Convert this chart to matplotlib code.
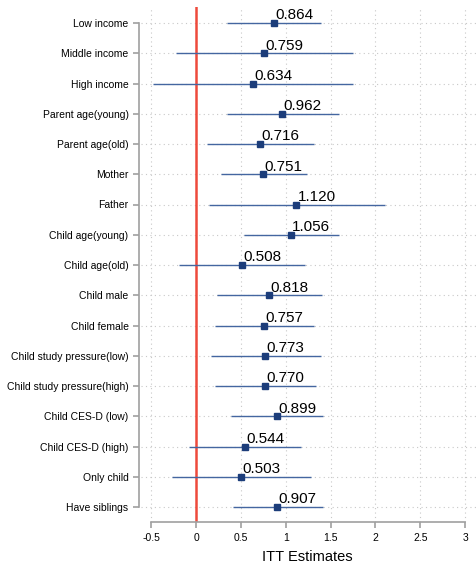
import matplotlib.pyplot as plt

groups = ["Low income", "Middle income", "High income", "Parent age(young)",
          "Parent age(old)", "Mother", "Father", "Child age(young)",
          "Child age(old)", "Child male", "Child female",
          "Child study pressure(low)", "Child study pressure(high)",
          "Child CES-D (low)", "Child CES-D (high)", "Only child",
          "Have siblings"]
estimates = [0.864, 0.759, 0.634, 0.962, 0.716, 0.751, 1.120, 1.056, 0.508,
             0.818, 0.757, 0.773, 0.770, 0.899, 0.544, 0.503, 0.907]
ci_low = [0.346, -0.223, -0.483, 0.342, 0.126, 0.275, 0.145, 0.535, -0.190,
          0.238, 0.208, 0.167, 0.212, 0.394, -0.078, -0.264, 0.412]
ci_high = [1.390, 1.747, 1.754, 1.594, 1.316, 1.234, 2.107, 1.594, 1.215,
           1.408, 1.316, 1.390, 1.338, 1.412, 1.171, 1.279, 1.412]
xticks = [-0.5, 0, 0.5, 1, 1.5, 2, 2.5, 3]
xtick_labels = ["-0.5", "0", "0.5", "1", "1.5", "2", "2.5", "3"]

plt.rcParams['font.family'] = ['Liberation Sans', 'DejaVu Sans']

W, H = 476, 566
fig = plt.figure(figsize=(W / 100, H / 100), dpi=100)
# axes box in pixels: left 139, right 476, top 7, bottom 522
ax = fig.add_axes([139 / W, 1 - 522 / H, (476 - 139) / W, (522 - 7) / H])

x0, ppu = 196.0, 89.7
ax.set_xlim((139 - x0) / ppu, (476 - x0) / ppu)
ax.set_ylim((522 - 23) / 30.25, (7 - 23) / 30.25)

rows = list(range(len(groups)))
grid_col = "#c8c8c8"
for x in xticks:
    ax.axvline(x, color=grid_col, lw=0.8, ls=(0, (1, 3)), zorder=0)
for y in rows:
    ax.axhline(y, xmin=2 / 337, color=grid_col, lw=0.8, ls=(0, (1, 3)), zorder=0)

ax.axvline(0, color="#ee4a3c", lw=1.8, zorder=1)

ax.hlines(rows, ci_low, ci_high, color="#4466a0", lw=1.0, zorder=2)
ax.plot(estimates, rows, ls="none", marker="s", ms=5, color="#1c3d7a", zorder=3)
for y, v in zip(rows, estimates):
    ax.annotate(f"{v:.3f}", (v, y), xytext=(1, 0.5), textcoords="offset points",
                ha="left", va="bottom", fontsize=11, color="black")

spine_col = "#a0a0a0"
for s in ["top", "right"]:
    ax.spines[s].set_visible(False)
ax.spines["left"].set_color(spine_col)
ax.spines["bottom"].set_color(spine_col)
ax.spines["left"].set_linewidth(1.2)
ax.spines["bottom"].set_linewidth(1.2)
ax.spines["left"].set_bounds(0, len(groups) - 1)
ax.spines["bottom"].set_bounds(-0.5, 3)

ax.set_yticks(rows)
ax.set_yticklabels(groups, fontsize=7.5)
ax.set_xticks(xticks)
ax.set_xticklabels(xtick_labels, fontsize=7.5)
ax.tick_params(axis="y", length=4.5, color=spine_col, width=1.2, pad=3)
ax.tick_params(axis="x", length=4.5, color=spine_col, width=1.2, pad=3.5)
ax.set_xlabel("ITT Estimates", fontsize=10.5, labelpad=5)
ax.patch.set_visible(False)

fig.savefig("out.png", dpi=100)
